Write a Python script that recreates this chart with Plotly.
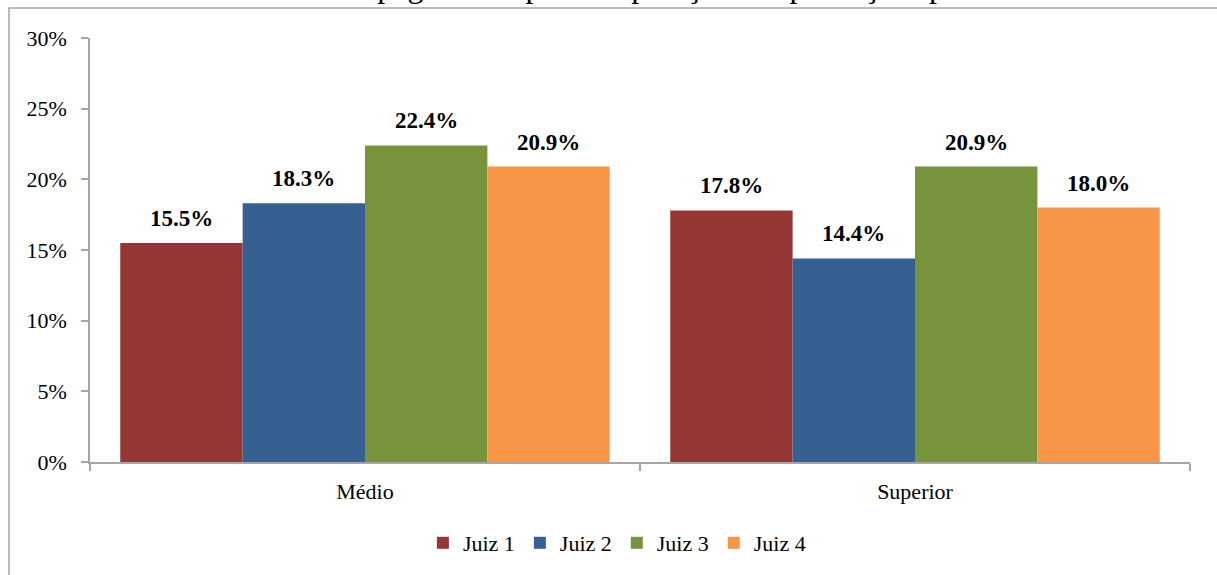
import plotly.graph_objects as go

categories = ["Médio", "Superior"]
series_names = ["Juiz 1", "Juiz 2", "Juiz 3", "Juiz 4"]
juiz1 = [15.5, 17.8]
juiz2 = [18.3, 14.4]
juiz3 = [22.4, 20.9]
juiz4 = [20.9, 18.0]
colors = ["#953735", "#376092", "#77933C", "#F79646"]
y_ticks = [0, 5, 10, 15, 20, 25, 30]
y_tick_labels = ["0%", "5%", "10%", "15%", "20%", "25%", "30%"]
title_text = "Gráfico 1 – Percentual de apagamento por comparação das produções por escolaridade"

W, H = 1217, 575
L, R, T, B = 90, 27, 38, 112
pw, ph = W - L - R, H - T - B
BARGAP = 0.11

def px_x(p):
    return (p - L) / pw

def px_y(p):
    return (H - B - p) / ph

font_family = "Liberation Serif, Times New Roman, serif"

fig = go.Figure()
all_series = [juiz1, juiz2, juiz3, juiz4]
for name, vals, col in zip(series_names, all_series, colors):
    fig.add_trace(go.Bar(
        name=name, x=categories, y=vals, marker_color=col, marker_line_width=0,
    ))

# data labels as annotations, shifted to each bar's centre within its group
bar_px = pw / len(categories) * (1 - BARGAP) / len(all_series)
n = len(all_series)
for i, vals in enumerate(all_series):
    for cat, v in zip(categories, vals):
        fig.add_annotation(
            x=cat, y=v, xref="x", yref="y", showarrow=False,
            text=f"<b>{v:.1f}%</b>", xshift=(i - (n - 1) / 2) * bar_px,
            yanchor="bottom", yshift=10,
            font=dict(family=font_family, size=23, color="black"),
        )

fig.update_layout(
    width=W, height=H,
    margin=dict(l=L, r=R, t=T, b=B),
    paper_bgcolor="white", plot_bgcolor="white",
    barmode="group", bargap=BARGAP, bargroupgap=0,
    font=dict(family=font_family, size=22, color="black"),
    showlegend=True,
    legend=dict(orientation="h", x=0.479, xanchor="center", y=px_y(543), yanchor="middle",
                font=dict(size=22), itemwidth=30, traceorder="normal"),
    xaxis=dict(showline=True, linecolor="#A6A6A6", linewidth=1.5, ticks="outside",
               tickson="boundaries", ticklen=7, tickcolor="#A6A6A6", tickwidth=1.5,
               showgrid=False, tickfont=dict(size=22), zeroline=False,
               ticklabelstandoff=9),
    yaxis=dict(range=[0, 30], tickvals=y_ticks, ticktext=y_tick_labels, showline=True,
               linecolor="#A6A6A6", linewidth=1.5, ticks="outside", ticklen=7,
               tickcolor="#A6A6A6", tickwidth=1.5, showgrid=False, zeroline=False,
               tickfont=dict(size=22), ticklabelstandoff=10),
)

fig.add_shape(type="rect", xref="paper", yref="paper",
              x0=px_x(9), x1=px_x(1240), y0=px_y(640), y1=px_y(8),
              line=dict(color="#A6A6A6", width=1.5), fillcolor="rgba(0,0,0,0)", layer="below")

# page title above the chart, cut off by the top edge as in the source image
fig.add_annotation(xref="paper", yref="paper", x=px_x(26), y=px_y(6), xanchor="left",
                   yanchor="bottom", showarrow=False, text=title_text,
                   font=dict(family=font_family, size=32, color="black"))

fig.write_html("out.html", config={"displayModeBar": False},
               post_script="document.body.style.margin='0';document.body.style.overflow='hidden';")
